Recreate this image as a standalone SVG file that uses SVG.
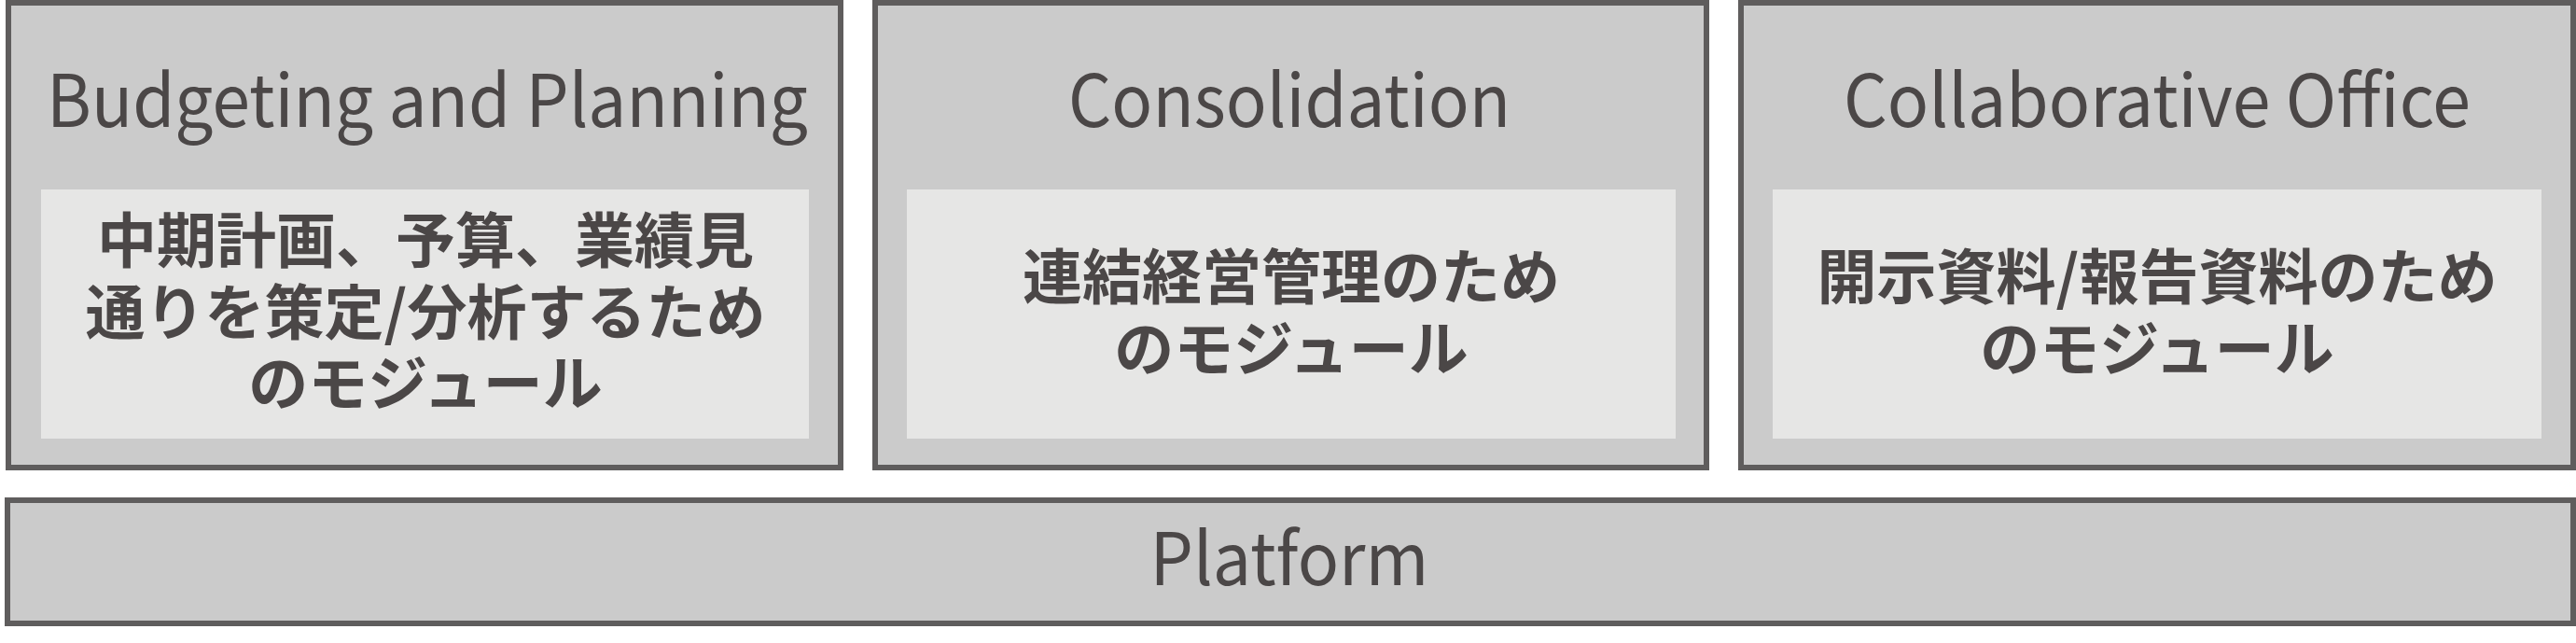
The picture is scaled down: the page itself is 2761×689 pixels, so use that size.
<svg xmlns="http://www.w3.org/2000/svg" width="2761" height="689" viewBox="0 0 2761 689">
<style>
.outer{fill:#cbcbcb;stroke:#5f5d5d;stroke-width:6}
.inner{fill:#e6e6e5}
.title{font-family:"Noto Sans CJK JP","Noto Sans",sans-serif;font-size:78px;font-weight:400;fill:#4b4747;text-anchor:middle}
.desc{font-family:"Noto Sans CJK JP","Noto Sans",sans-serif;font-size:64px;font-weight:700;fill:#4b4747;text-anchor:middle}
</style>
<rect width="2761" height="689" fill="#ffffff"/>
<g id="connectors"></g>
<g id="budgeting">
<rect class="outer" x="9" y="3" width="892" height="498"/>
<text class="title" x="458" y="136" textLength="816" lengthAdjust="spacingAndGlyphs">Budgeting and Planning</text>
<rect class="inner" x="44" y="203" width="823" height="267"/>
<text class="desc" x="456" y="281">中期計画、予算、業績見</text>
<text class="desc" x="456" y="358">通りを策定/分析するため</text>
<text class="desc" x="456" y="434">のモジュール</text>
</g>
<g id="consolidation">
<rect class="outer" x="938" y="3" width="891" height="498"/>
<text class="title" x="1382" y="136" textLength="474" lengthAdjust="spacingAndGlyphs">Consolidation</text>
<rect class="inner" x="972" y="203" width="824" height="267"/>
<text class="desc" x="1384" y="320">連結経営管理のため</text>
<text class="desc" x="1384" y="397">のモジュール</text>
</g>
<g id="collaborative">
<rect class="outer" x="1866" y="3" width="892" height="498"/>
<text class="title" x="2312" y="136" textLength="672" lengthAdjust="spacingAndGlyphs">Collaborative Office</text>
<rect class="inner" x="1900" y="203" width="824" height="267"/>
<text class="desc" x="2312" y="320">開示資料/報告資料のため</text>
<text class="desc" x="2312" y="397">のモジュール</text>
</g>
<g id="platform">
<rect class="outer" x="8" y="536" width="2750" height="132"/>
<text class="title" x="1382" y="627" textLength="299" lengthAdjust="spacingAndGlyphs">Platform</text>
</g>
</svg>
